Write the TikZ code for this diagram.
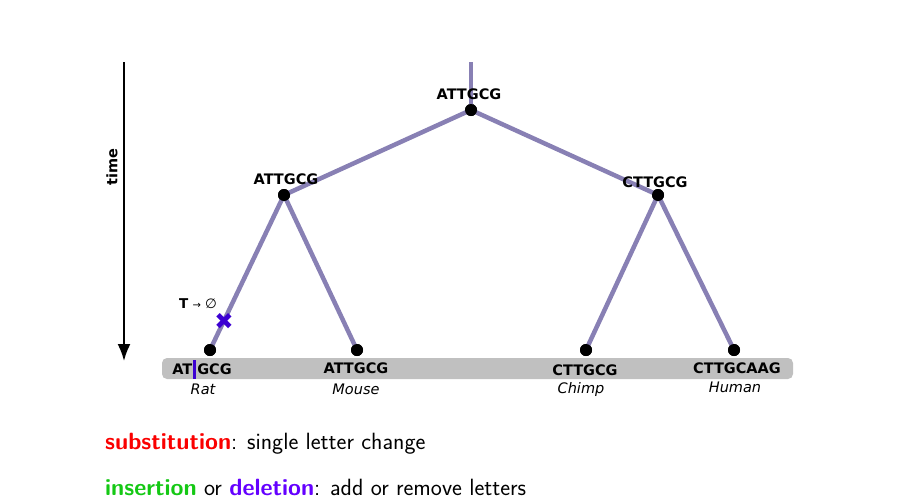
\documentclass[tikz,border=0pt]{standalone}
\usepackage{fontspec}
\newfontfamily\dejavu{DejaVu Sans}
\usetikzlibrary{arrows.meta}
\definecolor{edgecol}{RGB}{136,128,180}
\definecolor{delcol}{RGB}{60,0,210}
\definecolor{subcol}{RGB}{250,0,0}
\definecolor{inscol}{RGB}{20,200,20}
\definecolor{delword}{RGB}{100,0,255}
\definecolor{barcol}{RGB}{192,192,192}
\tikzset{
  edge/.style={draw=edgecol, line width=4.5pt},
  dot/.style={circle, fill=black, inner sep=0pt, minimum size=12pt},
  seq/.style={font=\dejavu\fontsize{14.5}{16}\selectfont\bfseries, inner sep=0pt},
  species/.style={font=\dejavu\fontsize{14.5}{16}\selectfont\itshape, inner sep=0pt},
  legend/.style={font=\sffamily\fontsize{23.5}{26}\selectfont, anchor=base west, inner sep=0pt},
}
\begin{document}
\begin{tikzpicture}[x=1pt,y=-1pt]
\useasboundingbox (0,0) rectangle (899,501);
% gray bar
\fill[barcol, rounded corners=5pt] (162,358) rectangle (793,379);
% nodes
\coordinate (top) at (471,62);
\node[dot] (root) at (471,110) {};
\node[dot] (L) at (284,195) {};
\node[dot] (R) at (658,195) {};
\node[dot] (rat) at (210,350) {};
\node[dot] (mouse) at (357,350) {};
\node[dot] (chimp) at (586,350) {};
\node[dot] (human) at (734,350) {};
% edges
\draw[edge] (top) -- (root.center);
\draw[edge] (root.center) -- (L.center);
\draw[edge] (root.center) -- (R.center);
\draw[edge] (L.center) -- (rat.center);
\draw[edge] (L.center) -- (mouse.center);
\draw[edge] (R.center) -- (chimp.center);
\draw[edge] (R.center) -- (human.center);
% dots on top of edges
\foreach \n in {root,L,R,rat,mouse,chimp,human}{\fill (\n) circle (6pt);}
% internal labels
\node[seq] (lroot) at (469,94) {ATTGCG};
\node[seq] (lL) at (286,179) {ATTGCG};
\node[seq] (lR) at (655,182) {CTTGCG};
% leaf labels
\node[seq] (lrat) at (202,369) {AT\hspace{1pt}{\color{delcol}\rule[-4pt]{3pt}{19pt}}\hspace{1pt}GCG};
\node[seq] (lmouse) at (356,368) {ATTGCG};
\node[seq] (lchimp) at (585,370) {CTTGCG};
\node[seq] (lhuman) at (737,368) {CTTGCAAG};
\node[species] (srat) at (203,389) {Rat};
\node[species] (smouse) at (356,389) {Mouse};
\node[species] (schimp) at (581,389) {Chimp};
\node[species] (shuman) at (735,387) {Human};
% deletion mark
\node[text=delcol, font=\dejavu\fontsize{23}{23}\selectfont\bfseries, inner sep=0pt] (cross) at (224,321) {✖};
\node[font=\dejavu\fontsize{13.5}{15}\selectfont, inner sep=0pt] (tdel) at (198,304) {\textbf{T} {\fontsize{10}{10}\selectfont→} ∅};
% time arrow
\coordinate (t0) at (124,62);
\coordinate (t1) at (124,361);
\draw[line width=2pt, -{Latex[length=17pt,width=13pt]}] (t0) -- (t1);
\node[font=\dejavu\fontsize{14.5}{16}\selectfont\bfseries, rotate=90, inner sep=0pt] (time) at (112,167) {time};
% legend
\node[legend] (sub) at (105,449) {{\bfseries\color{subcol}substitution}: single letter change};
\node[legend] (ins) at (105,495) {{\bfseries\color{inscol}insertion} or {\bfseries\color{delword}deletion}: add or remove letters};
\end{tikzpicture}
\end{document}
